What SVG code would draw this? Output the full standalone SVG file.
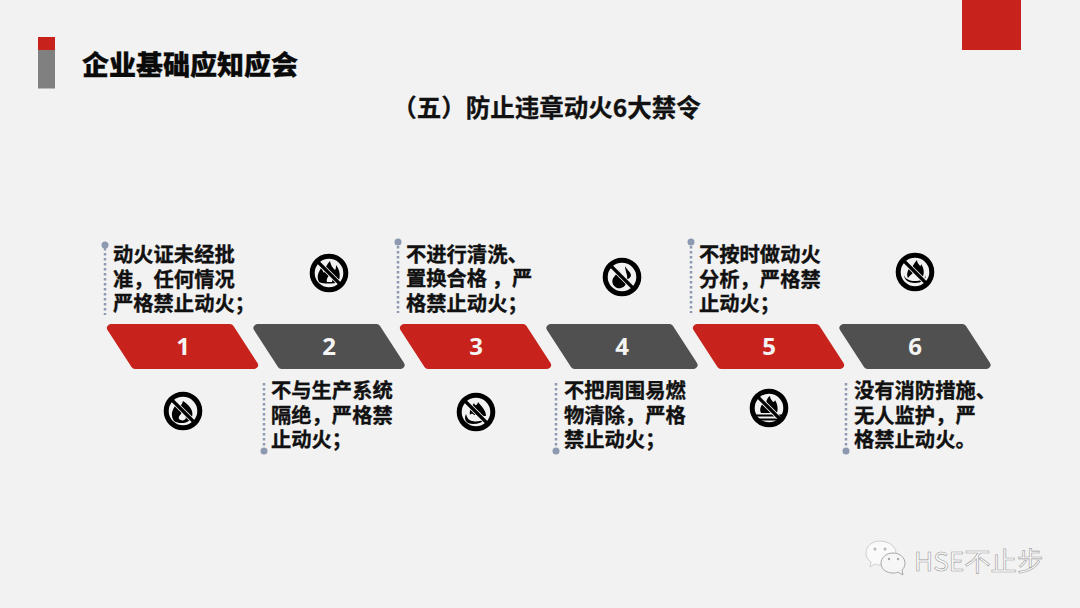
<svg xmlns="http://www.w3.org/2000/svg" width="1080" height="608" viewBox="0 0 1080 608">
<style>
text{font-family:"Noto Sans CJK SC","Liberation Sans",sans-serif}
.t{font-size:20.3px;font-weight:700;fill:#111;stroke:#111;stroke-width:.35}
.n{font-family:"Open Sans","Liberation Sans",sans-serif;font-size:24px;font-weight:700;fill:#f4f4f4;text-anchor:middle}
.r{fill:#c8221c;stroke:#c8221c;stroke-width:8;stroke-linejoin:round}
.d{fill:#505050;stroke:#505050;stroke-width:8;stroke-linejoin:round}
.l{stroke:#8d99b0;stroke-width:2.5;stroke-dasharray:2.5 2.5;fill:none}
.p{fill:#8d99b0}
.ring{fill:none;stroke:#000;stroke-width:5}
.halo{stroke:#f2f2f2;stroke-width:5}
.slash{stroke:#000;stroke-width:3.2}
.w{fill:#f2f2f2}
</style>
<defs>
<path id="shape" d="M0 0H119L143 37H24Z"/>
<g id="ban"><line class="halo" x1="-9" y1="-9" x2="9" y2="9"/><line class="slash" x1="-13" y1="-13" x2="13" y2="13"/><circle class="ring" r="16.800"/></g>
</defs>
<rect width="1080" height="608" fill="#f2f2f2"/>
<rect x="962" y="0" width="59" height="50" fill="#c8221c"/>
<rect x="38" y="50" width="17" height="38.500" fill="#808080"/>
<rect x="38" y="37" width="17" height="13" fill="#c8221c"/>
<text x="82" y="75" font-size="27" font-weight="900" fill="#0a0a0a" stroke="#0a0a0a" stroke-width=".3">企业基础应知应会</text>
<text x="546.500" y="117" font-size="24.500" font-weight="700" fill="#111" stroke="#111" stroke-width=".3" text-anchor="middle">（五）防止违章动火6大禁令</text>
<g id="connectors">
<line class="l" x1="105" y1="248" x2="105" y2="315"/>
<line class="l" x1="398" y1="246" x2="398" y2="313"/>
<line class="l" x1="691" y1="246" x2="691" y2="313"/>
<line class="l" x1="264" y1="383" x2="264" y2="447"/>
<line class="l" x1="556" y1="383" x2="556" y2="447"/>
<line class="l" x1="846" y1="383" x2="846" y2="447"/>
</g>
<g id="node1">
<use href="#shape" class="r" x="111" y="328"/><text class="n" x="183" y="355">1</text>
<circle class="p" cx="105" cy="245" r="3.500"/>
<text class="t" x="113" y="262">动火证未经批</text><text class="t" x="113" y="287">准，任何情况</text><text class="t" x="113" y="311">严格禁止动火；</text>
<g transform="translate(183 411)"><path d="M-9 10C-14 2-9-3-6-8C-4-4-2-4 0-10C6-6 11-1 9 6C7 12-3 14-9 10Z"/><path class="w" d="M-4 8C-2 10 2 10 3 7C2 4 0 3-1 1C-2 4-5 5-4 8Z"/><use href="#ban"/></g>
</g>
<g id="node2">
<use href="#shape" class="d" x="257.500" y="328"/><text class="n" x="329" y="355">2</text>
<circle class="p" cx="264" cy="451" r="3.500"/>
<text class="t" x="271" y="398">不与生产系统</text><text class="t" x="271" y="423">隔绝，严格禁</text><text class="t" x="271" y="447">止动火；</text>
<g transform="translate(329 273)"><path d="M-10 9C-13 3-10-1-8-5C-6-3-6-1-5 0C-4-5-2-9 1-12C2-7 4-5 6-3C7-4 7-6 7-8C11-3 12 4 9 9C5 11-6 11-10 9Z"/><path class="w" d="M-2 9C-3 6-1 4 1 1C3 4 4 6 3 9Z"/><use href="#ban"/></g>
</g>
<g id="node3">
<use href="#shape" class="r" x="404" y="328"/><text class="n" x="476" y="355">3</text>
<circle class="p" cx="398" cy="242" r="3.500"/>
<text class="t" x="406" y="262">不进行清洗、</text><text class="t" x="406" y="286">置换合格 ，严</text><text class="t" x="406" y="311">格禁止动火；</text>
<g transform="translate(476 412)"><path d="M-6 3C-7-2-4-6-2-9C-1-6 1-6 2-10C5-6 10-2 10 4C5 4 0 3-2 3C-4 1-5 2-6 3Z"/><path d="M-10 2C-13 8-9 12-3 12C2 12 7 10 10 7C6 9 0 10-4 9C-8 8-9 5-10 2Z"/><use href="#ban"/></g>
</g>
<g id="node4">
<use href="#shape" class="d" x="550.500" y="328"/><text class="n" x="622" y="355">4</text>
<circle class="p" cx="556" cy="451" r="3.500"/>
<text class="t" x="564" y="398">不把周围易燃</text><text class="t" x="564" y="423">物清除，严格</text><text class="t" x="564" y="447">禁止动火；</text>
<g transform="translate(622 277)"><path d="M-3-7C-2-3 3 0 4 5C4 10-1 12-5 11C-10 9-11 3-8 0C-6-3-4-4-3-7ZM3-11C4-8 8-6 9-2C9 0 7 2 5 2C6-2 3-6 3-11Z"/><use href="#ban"/></g>
</g>
<g id="node5">
<use href="#shape" class="r" x="697" y="328"/><text class="n" x="769" y="355">5</text>
<circle class="p" cx="691" cy="242" r="3.500"/>
<text class="t" x="699" y="262">不按时做动火</text><text class="t" x="699" y="287">分析，严格禁</text><text class="t" x="699" y="311">止动火；</text>
<g transform="translate(769 408)"><path d="M-8 5C-10 1-8-2-6-5C-5-3-4-3-3-4C-3-8-1-11 1-12C1-9 3-8 4-6C5-6 6-7 6-8C9-3 9 1 8 5Z"/><path d="M-13 6.500H13V8.500H-13ZM-10 10.500H10V12.500H-10Z"/><use href="#ban"/></g>
</g>
<g id="node6">
<use href="#shape" class="d" x="843.500" y="328"/><text class="n" x="915" y="355">6</text>
<circle class="p" cx="846" cy="451" r="3.500"/>
<text class="t" x="854" y="398">没有消防措施、</text><text class="t" x="854" y="423">无人监护，严</text><text class="t" x="854" y="447">格禁止动火。</text>
<g transform="translate(915 272)"><path d="M-7 6C-9 2-7-2-5-5C-4-4-3-4-3-4C-2-7 0-10 2-12C2-9 4-8 5-6C6-6 6-7 6-8C9-4 10 2 7 6C4 3 2 1 0-1C-2 1-5 3-7 6Z"/><path d="M-11 3C-11 8-6 11 0 11C6 11 11 8 11 3C10 7 5 9 0 9C-5 9-10 7-11 3Z"/><use href="#ban"/></g>
</g>
<g id="watermark">
<path d="M880 541C872 541 866 546 866 553C866 557 868 560 871 562L870 567L875 564C877 565 880 565 882 565C890 565 896 560 896 553C896 546 888 541 880 541Z" fill="#fafafa" stroke="#cfcfcf"/>
<path d="M893 553C886 553 881 558 881 563C881 569 886 573 893 573C895 573 896 573 898 572L903 575L902 570C904 568 905 566 905 563C905 558 900 553 893 553Z" fill="#f6f6f6" stroke="#a8a8a8"/>
<circle cx="875" cy="549" r="1.500" fill="#b8b8b8"/><circle cx="885" cy="549" r="1.500" fill="#b8b8b8"/>
<circle cx="889" cy="559" r="1.200" fill="#a8a8a8"/><circle cx="898" cy="559" r="1.200" fill="#a8a8a8"/>
<text x="914" y="571" font-size="26.300" font-weight="400" fill="#fbfbfb" stroke="#a0a0a0" stroke-width=".6">HSE不止步</text>
</g>
</svg>
